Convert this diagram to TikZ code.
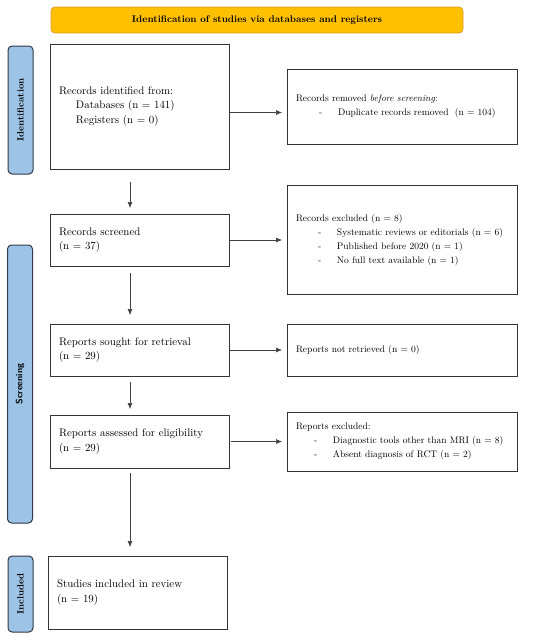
\documentclass[tikz,border=0pt]{standalone}
\usetikzlibrary{arrows.meta,positioning}

\definecolor{bannerorange}{RGB}{255,192,0}
\definecolor{bannerline}{RGB}{222,156,40}
\definecolor{phaseblue}{RGB}{157,195,230}
\definecolor{phaseline}{RGB}{48,58,72}

\newcommand{\dashline}[2][20pt]{\hspace*{#1}\makebox[19pt][l]{-}#2}

\tikzset{
  leftbox/.style={draw=black!80, line width=0.8pt, outer sep=0pt, align=left,
    text width=161pt, inner xsep=9pt, minimum height=#1,
    font=\fontsize{10.9}{14.5}\selectfont},
  rightbox/.style={leftbox=#1, text width=212pt,
    font=\fontsize{9.5}{14.2}\selectfont},
  phase/.style={rotate=90, fill=phaseblue, draw=phaseline, line width=1pt,
    rounded corners=4pt, minimum height=25pt, inner sep=0pt},
  flow/.style={->, draw=black!75, line width=0.6pt},
}

\begin{document}
\begin{tikzpicture}[>={Latex[length=6pt,width=5pt]}, x=1pt, y=-1pt]
  \useasboundingbox (0,0) rectangle (550,638);
  \node[fill=bannerorange, draw=bannerline, line width=0.8pt, rounded corners=4pt,
        minimum width=412pt, minimum height=26pt,
        font=\fontsize{9.7}{11}\selectfont\bfseries] (title) at (257,20)
        {Identification of studies via databases and registers};

  % phases
  \node[phase, minimum width=128pt, font=\fontsize{9.2}{11}\selectfont\bfseries]
        (idphase) at (20.5,110) {Identification};
  \node[phase, minimum width=278pt, font=\fontsize{9.2}{11}\selectfont\sffamily\bfseries]
        (scrphase) at (20,384) {Screening};
  \node[phase, minimum width=76pt, font=\fontsize{9.2}{11}\selectfont\bfseries]
        (incphase) at (20.5,594) {Included};

  % main column
  \node[leftbox=125pt, anchor=north west] (ident) at (50,44)
        {Records identified from:\\
         \hspace*{17pt}Databases (n = 141)\\
         \hspace*{17pt}Registers (n = 0)};
  \node[leftbox=52pt] (screened) [below=45pt of ident]
        {Records screened\\(n = 37)};
  \node[leftbox=52pt] (sought) [below=58pt of screened]
        {Reports sought for retrieval\\(n = 29)};
  \node[leftbox=53pt] (assessed) [below=39pt of sought]
        {Reports assessed for eligibility\\(n = 29)};
  \node[leftbox=73pt] (included) [below=88pt of assessed, xshift=-2pt]
        {Studies included in review\\(n = 19)};

  % side column
  \node[rightbox=75pt] (removed) [right=58pt of ident]
        {Records removed \textit{before screening}:\\
         \dashline[23pt]{Duplicate records removed\ \ (n = 104)}};
  \node[rightbox=109pt] (excluded) [right=58pt of screened]
        {Records excluded (n = 8)\\
         \dashline[22pt]{Systematic reviews or editorials (n = 6)}\\
         \dashline[22pt]{Published before 2020 (n = 1)}\\
         \dashline[22pt]{No full text available (n = 1)}};
  \node[rightbox=52pt] (notretr) [right=58pt of sought]
        {Reports not retrieved (n = 0)};
  \node[rightbox=59pt] (repexcl) [right=58pt of assessed]
        {Reports excluded:\\
         \dashline[18pt]{Diagnostic tools other than MRI (n = 8)}\\
         \dashline[18pt]{Absent diagnosis of RCT (n = 2)}};

  \path
  ([yshift=-6pt]ident.east) edge[flow, shorten >=5pt] ([yshift=-6pt]ident.east -| removed.west)
  (screened.east) edge[flow, shorten >=5pt] (screened.east -| excluded.west)
  (sought.east) edge[flow, shorten >=5pt] (sought.east -| notretr.west)
  (assessed.east) edge[flow, shorten <=2pt, shorten >=5pt] (assessed.east -| repexcl.west);

  \draw[flow, shorten <=13pt, shorten >=6pt]
    ([xshift=-9.5pt]ident.south) -- ([xshift=-9.5pt]ident.south |- screened.north);
  \draw[flow, shorten <=7pt, shorten >=9pt]
    ([xshift=-9.5pt]screened.south) -- ([xshift=-9.5pt]screened.south |- sought.north);
  \draw[flow, shorten <=6pt, shorten >=6pt]
    ([xshift=-9.5pt]sought.south) -- ([xshift=-9.5pt]sought.south |- assessed.north);
  \draw[flow, shorten <=5pt, shorten >=9pt]
    ([xshift=-9.5pt]assessed.south) -- ([xshift=-9.5pt]assessed.south |- included.north);
\end{tikzpicture}
\end{document}
